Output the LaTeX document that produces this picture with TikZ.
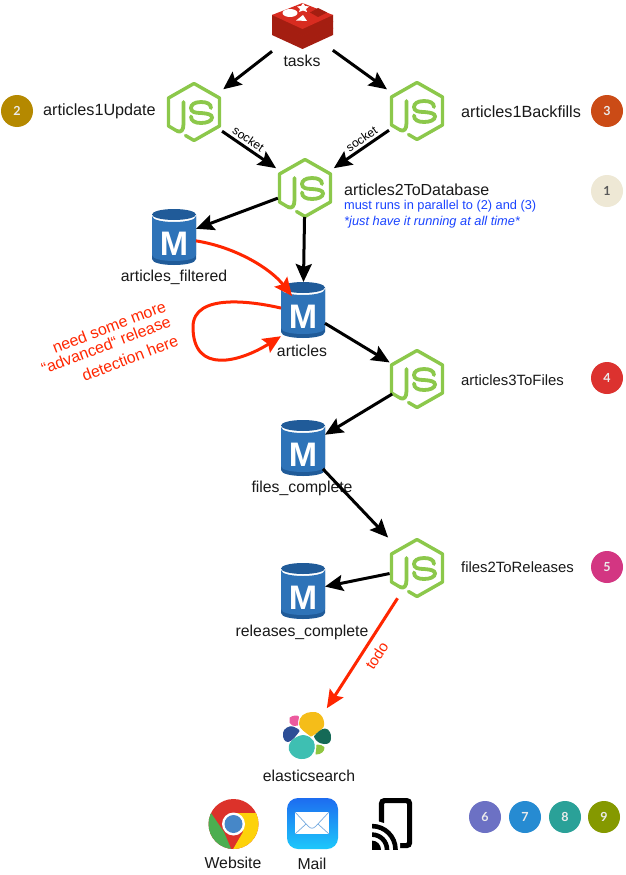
\documentclass[tikz,border=0pt]{standalone}
\usepackage{fontspec}
\setmainfont{Liberation Sans}
\newfontfamily\badgefont{Lato}
\usetikzlibrary{arrows.meta,calc,shapes.geometric}
\definecolor{jsgreen}{HTML}{8CC84B}
\definecolor{dbblue}{HTML}{2E73B8}
\definecolor{dbdark}{HTML}{205B99}
\definecolor{todored}{HTML}{FF2600}
\definecolor{noteblue}{HTML}{1A44FF}
\definecolor{rediscol}{HTML}{D82C20}
\definecolor{redisdark}{HTML}{A41E11}
\definecolor{esyellow}{HTML}{F5BD19}
\definecolor{espink}{HTML}{EC5A9E}
\definecolor{esnavy}{HTML}{2D4E96}
\definecolor{esteal}{HTML}{156A57}
\definecolor{escyan}{HTML}{3EBFB2}
\definecolor{esgreen}{HTML}{8FC63F}
\tikzset{
  x=1pt,y=-1pt,
  jsnode/.style={circle,minimum size=64pt,inner sep=0pt,outer sep=0pt},
  dbnode/.style={rectangle,minimum width=44pt,minimum height=56pt,inner sep=0pt,outer sep=0pt},
  blob/.style={circle,minimum size=74pt,inner sep=0pt,outer sep=0pt},
  mletter/.style={text=white,font=\fontsize{34}{34}\selectfont\bfseries,inner sep=0pt},
  lbl/.style={font=\fontsize{15.8}{18}\selectfont,inner sep=0pt,text=black!90},
  lbll/.style={lbl,anchor=west},
  lblm/.style={lbl,anchor=west,font=\fontsize{14.9}{18}\selectfont},
  note/.style={font=\fontsize{12.8}{14}\selectfont,inner sep=0pt,anchor=west,text=noteblue},
  redtext/.style={font=\fontsize{16}{18}\selectfont,inner sep=0pt,text=todored,rotate=21},
  edgelabel/.style={font=\fontsize{12}{13}\selectfont,inner sep=0pt},
  arrow/.style={line width=3pt,draw=black,-{Stealth[length=18pt,width=16pt,inset=3pt]}},
  redarrow/.style={line width=3pt,draw=todored,-{Stealth[length=18pt,width=16pt,inset=3pt]}},
  esblob/.style={fill=#1,draw=#1,line width=1pt,line join=round},
  badge/.style={circle,minimum size=32pt,inner sep=0pt,text=#1,font=\badgefont\fontsize{12.5}{12.5}\selectfont\bfseries},
  badge/.default=white!92!black,
  jslogo/.pic={
    \draw[jsgreen,line width=3.4pt,line join=round,line cap=round]
      (-8.5,23.5) -- (0,28.5) -- (25.5,14) -- (25.5,-14) -- (0,-28.5) -- (-25.5,-14) -- (-25.5,14) -- (-17,19);
    \draw[jsgreen,line width=3.8pt,line join=round,line cap=round]
      (-17,19) .. controls (-13,21) and (-10.5,18) .. (-10.5,12) -- (-10.5,-10);
    \draw[jsgreen,line width=3.8pt,line cap=round]
      (17,-4) .. controls (17,-8) and (13,-10) .. (7,-10)
      .. controls (0,-10) and (-3,-7) .. (-3,-4)
      .. controls (-3,0) and (1,1) .. (7,1)
      .. controls (14,1.5) and (18,2.5) .. (18,5.5)
      .. controls (18,9) and (13,11) .. (7,11)
      .. controls (1,11) and (-3,9) .. (-3,4.5);
  },
  dblogo/.pic={
    \fill[dbdark] (-22,-22) -- (-22,22) .. controls (-22,30) and (22,30) .. (22,22) -- (22,-22) -- cycle;
    \fill[dbblue] (-22,-18) -- (-22,18) .. controls (-22,26) and (22,26) .. (22,18) -- (22,-18) -- cycle;
    \fill[white] (-22,-22) -- (-22,-19) .. controls (-22,-11) and (22,-11) .. (22,-19) -- (22,-22) -- cycle;
    \fill[dbblue] (-22,-21) -- (-22,-18) .. controls (-22,-10) and (22,-10) .. (22,-18) -- (22,-21) .. controls (22,-13) and (-22,-13) .. (-22,-21) -- cycle;
    \fill[dbdark] (0,-22.5) ellipse [x radius=22pt,y radius=5.5pt];
  },
}
\newcommand{\dbicon}[3]{%
  \pic at (#2,#3) {dblogo};
  \node[dbnode] (#1) at (#2,#3) {};
  \node[mletter] (#1-m) at (#2,#3+7) {M};
}
\newcommand{\jsicon}[3]{%
  \pic at (#2,#3) {jslogo};
  \node[jsnode] (#1) at (#2,#3) {};
}
\begin{document}
\begin{tikzpicture}
\useasboundingbox (0,0) rectangle (625,875);
\fill[white] (0,0) rectangle (625,875);

% Redis icon
\foreach \yy in {28,21.5,15}{
  \fill[redisdark] (272,\yy) -- (272,\yy+7) -- (302.5,\yy+21) -- (333,\yy+7) -- (333,\yy) -- cycle;
  \fill[rediscol] (272,\yy) -- (302.5,\yy-12) -- (333,\yy) -- (302.5,\yy+14) -- cycle;
}
\fill[white] (290,13) ellipse [x radius=7.5pt,y radius=4pt];
\fill[white] (303,3) -- (305,6) -- (309,6.5) -- (306,9) -- (307,12) -- (303,10.5) -- (299,12) -- (300,9) -- (297,6.5) -- (301,6) -- cycle;
\fill[white] (303,15) -- (307,21) -- (296,20.5) -- cycle;
\fill[redisdark] (318,8) -- (327,12.5) -- (318,17) -- (310,12.5) -- cycle;
\node[blob] (tasksicon) at (302,28) {};
\node[lbl] (tasks) at (302,61) {tasks};

% JS icons
\jsicon{jsa}{194}{112}
\jsicon{jsb}{417}{111}
\jsicon{jsc}{305}{188}
\jsicon{jsd}{417}{379}
\jsicon{jse}{417}{568}

% databases
\dbicon{filtered}{174}{237}
\dbicon{articles}{303}{310}
\dbicon{files}{303}{448}
\dbicon{releases}{303}{591}

% elasticsearch
\filldraw[esblob=esyellow] (312,712.5) .. controls (322,711.5) and (325,722) .. (323,727) .. controls (320,731) and (313,735) .. (311,736) .. controls (306,732) and (300,729) .. (299.5,724) .. controls (299,717) and (305,712.5) .. (312,712.5) -- cycle;
\filldraw[esblob=espink] (290,718) .. controls (293,715.5) and (298,715.5) .. (298.5,717) .. controls (297.5,720) and (297.5,723) .. (297.5,725) .. controls (294,726) and (291,725) .. (290,722.5) -- cycle;
\filldraw[esblob=esnavy] (283.5,733) .. controls (284,729) and (289,726) .. (293,727) .. controls (296,728) and (299,730) .. (299,731) .. controls (296,735) and (292,741) .. (288,741.5) .. controls (285,741.5) and (283,738) .. (283.5,733) -- cycle;
\filldraw[esblob=esteal] (314.5,736.5) .. controls (317,733) and (322,729) .. (325,729) .. controls (329,729) and (331,735) .. (330.5,738) .. controls (330.5,742) and (328,744) .. (324,743.5) .. controls (320,743) and (316,741) .. (314.5,736.5) -- cycle;
\filldraw[esblob=escyan] (303,735.5) .. controls (308,736) and (311,738) .. (313,741) .. controls (315,746) and (315,750) .. (311,755) .. controls (306,760) and (296,760) .. (291,753) .. controls (288,749) and (289,744) .. (292,741) .. controls (295,738) and (299,736) .. (303,735.5) -- cycle;
\filldraw[esblob=esgreen] (317,745) .. controls (320,745) and (323,746) .. (324,747.5) .. controls (324,751) and (321,754) .. (316,754) .. controls (316,752) and (317,749) .. (317,745) -- cycle;
\node[blob,minimum size=66pt] (elastic) at (309,736) {};
\node[lbl] (elasticlabel) at (309,776) {elasticsearch};

% chrome
\begin{scope}
  \clip (233.5,824) circle [radius=25pt];
  \fill[fill={rgb,255:red,220;green,50;blue,42}] (205,795) rectangle (262,850);
  \fill[fill={rgb,255:red,76;green,174;blue,80}] (205,808) -- (211,813) -- (224,832) -- (232,851) -- (205,851) -- cycle;
  \fill[fill={rgb,255:red,253;green,210;blue,10}] (233,813) -- (262,813) -- (262,851) -- (232,851) -- (243,832) -- cycle;
\end{scope}
\fill[white] (233.5,824) circle [radius=11.5pt];
\fill[fill={rgb,255:red,70;green,135;blue,200}] (233.5,824) circle [radius=9pt];
\node[lbl] (website) at (233,863) {Website};

% mail
\shade[top color={rgb,255:red,29;green,108;blue,240},bottom color={rgb,255:red,29;green,200;blue,251},rounded corners=11pt] (287,798) rectangle (338,849);
\fill[white] (295,812) rectangle (329,834);
\draw[cyan!60!blue!55,line width=0.7pt] (295,812) -- (308,826) .. controls (311,829) and (313,829) .. (316,826) -- (329,812);
\draw[cyan!60!blue!55,line width=0.7pt] (295,834) -- (306,824);
\draw[cyan!60!blue!55,line width=0.7pt] (329,834) -- (318,824);
\node[lbl] (mail) at (312,864) {Mail};

% cast
\draw[black,line width=5.2pt,rounded corners=3pt] (381.5,823) -- (381.5,800.6) -- (409.6,800.6) -- (409.6,845.6) -- (396,845.6);
\begin{scope}
  \clip (372,820) rectangle (400,849.6);
  \fill[white] (372,849.6) circle [radius=29pt];
  \fill[black] (372,849.6) circle [radius=9pt];
  \draw[black,line width=4.6pt] (372,849.6) circle [radius=15pt];
  \draw[black,line width=4.6pt] (372,849.6) circle [radius=23.5pt];
\end{scope}

% labels
\node[lbll,font=\fontsize{16.2}{18}\selectfont] (lbla) at (43,111) {articles1Update};
\node[lbll,font=\fontsize{16.2}{18}\selectfont] (lblb) at (461,112) {articles1Backfills};
\node[lbll,font=\fontsize{16}{18}\selectfont] (lblc) at (344,190) {articles2ToDatabase};
\node[note] (notea) at (344,206) {must runs in parallel to (2) and (3)};
\node[note,font=\fontsize{12.8}{14}\selectfont\itshape] (noteb) at (344,222) {*just have it running at all time*};
\node[lblm] (lbld) at (461,380) {articles3ToFiles};
\node[lblm] (lble) at (461,567) {files2ToReleases};
\node[lbl] (lblfiltered) at (174,277) {articles\_filtered};
\node[lbl] (lblarticles) at (302,351) {articles};
\node[lbl] (lblfiles) at (302,488) {files\_complete};
\node[lbl] (lblreleases) at (302,632) {releases\_complete};

\node[redtext] (reda) at (109,327) {need some more};
\node[redtext] (redb) at (106,345) {“advanced“ release};
\node[redtext] (redc) at (130,358) {detection here};

% badges
\node[badge,fill={rgb,255:red,181;green,137;blue,0}] (b2) at (17,111) {2};
\node[badge,fill={rgb,255:red,203;green,75;blue,22}] (b3) at (607,111) {3};
\node[badge=black!65,fill={rgb,255:red,238;green,232;blue,213}] (b1) at (607,191) {1};
\node[badge,fill={rgb,255:red,220;green,50;blue,47}] (b4) at (607,378) {4};
\node[badge,fill={rgb,255:red,211;green,54;blue,130}] (b5) at (607,567) {5};
\node[badge,fill={rgb,255:red,108;green,113;blue,196}] (b6) at (485,817) {6};
\node[badge,fill={rgb,255:red,38;green,139;blue,210}] (b7) at (525,817) {7};
\node[badge,fill={rgb,255:red,42;green,161;blue,152}] (b8) at (565,817) {8};
\node[badge,fill={rgb,255:red,133;green,153;blue,0}] (b9) at (604,817) {9};

% connectors
\draw[arrow,shorten <=1pt,shorten >=5pt] (tasksicon) -- (jsa);
\draw[arrow,shorten <=1pt,shorten >=5pt] (tasksicon) -- (jsb);
\draw[arrow,shorten <=2pt,shorten >=3pt] (jsa) -- node[edgelabel,sloped,above=2.5pt,pos=.40] {socket} (jsc);
\draw[arrow,shorten <=2pt,shorten >=3pt] (jsb) -- node[edgelabel,sloped,above=2.5pt,pos=.41] {socket} (jsc);
\draw[arrow,shorten <=-3pt] (jsc) -- (filtered);
\draw[arrow,shorten <=-3pt] (jsc) -- (articles);
\draw[arrow] (articles) -- (jsd);
\draw[arrow,shorten <=-3pt] (jsd) -- (files);
\draw[arrow,shorten >=10pt,shorten <=-3pt] (files) -- (jse);
\draw[arrow,shorten <=-4pt] (jse) -- (releases);
\draw[redarrow,shorten <=4pt] (jse) -- node[pos=.47,sloped,below=6.5pt,font=\fontsize{15}{16}\selectfont,inner sep=0pt,text=todored] {todo} (elastic);
\draw[redarrow] (filtered.-10) .. controls (235,247) and (270,268) .. ($(articles.north)+(-11,14)$);
\draw[redarrow] (articles.175) .. controls (255,302) and (193,292) .. (193,327) .. controls (193,375) and (240,362) .. (articles.-130);
\end{tikzpicture}
\end{document}
